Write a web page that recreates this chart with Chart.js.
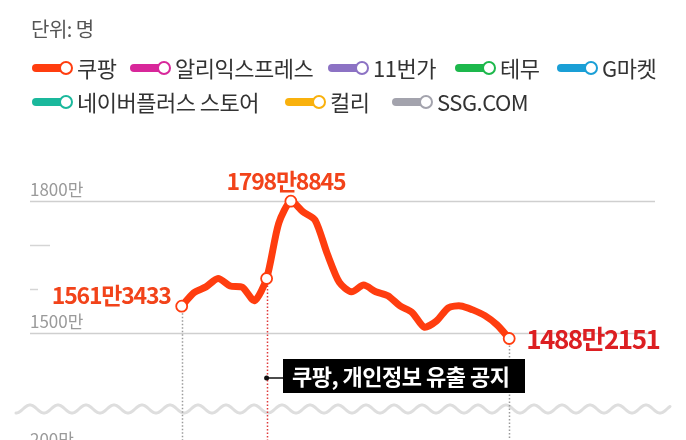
<!DOCTYPE html>
<html>
<head>
<meta charset="utf-8">
<script src="https://cdn.jsdelivr.net/npm/chart.js@4"></script>
<style>
html,body{margin:0;padding:0;background:#fff;}
#wrap{width:686px;height:440px;position:relative;overflow:hidden;}
</style>
</head>
<body>
<div id="wrap"><canvas id="c" width="686" height="440"></canvas></div>
<script>
// ---- data ----
const unitLabel = "단위: 명";
const seriesNames = ["쿠팡","알리익스프레스","11번가","테무","G마켓","네이버플러스 스토어","컬리","SSG.COM"];
const seriesColors = ["#ff3d0f","#d8279a","#8c72c4","#1db84c","#1a9fd6","#1ab89c","#f9b10d","#a3a3ad"];
const days = ["11/22","11/23","11/24","11/25","11/26","11/27","11/28","11/29","11/30","12/1",
              "12/2","12/3","12/4","12/5","12/6","12/7","12/8","12/9","12/10","12/11",
              "12/12","12/13","12/14","12/15","12/16","12/17","12/18","12/19"];
// 쿠팡 daily users, unit: 만 명
const coupang = [1561.3433,1592,1605,1624,1607,1604,1574,1624,1749,1798.8845,
                 1775,1756,1680,1615,1594,1609,1594,1585,1562,1547,
                 1514,1528,1558,1562,1553,1540,1519,1488.2151];
const gridTicks = [1800,1500];
const minorTicks = [1700,1600];
const tickLabels = ["1800만","1500만"];
const lowerTickLabel = "200만";
const highlighted = [0,7,9,27];
const pointLabels = {0:"1561만3433", 9:"1798만8845", 27:"1488만2151"};
const eventIndex = 7;
const eventText = "쿠팡, 개인정보 유출 공지";

const FONT = '"Noto Sans CJK KR","Noto Sans",sans-serif';
const RED = "#ff3d0f";

const overlay = {
  id:'overlay',
  beforeDatasetsDraw(chart){
    const ctx = chart.ctx, y = chart.scales.y, x = chart.scales.x;
    ctx.save();
    // title
    ctx.fillStyle = "#555";
    ctx.font = '20px ' + FONT;
    ctx.textBaseline = 'alphabetic';
    ctx.letterSpacing = '-0.5px';
    ctx.fillText(unitLabel, 31, 37);
    // legend
    const legendPos = [[32,68],[130,68],[328,68],[455,68],[557,68],[32,102],[285,102],[392,102]];
    seriesNames.forEach((n,i)=>{
      const [lx,ly] = legendPos[i];
      ctx.strokeStyle = seriesColors[i];
      ctx.lineWidth = 8; ctx.lineCap = 'round';
      ctx.beginPath(); ctx.moveTo(lx+4,ly); ctx.lineTo(lx+30,ly); ctx.stroke();
      ctx.beginPath(); ctx.arc(lx+34,ly,6,0,Math.PI*2);
      ctx.fillStyle = '#fff'; ctx.fill();
      ctx.lineWidth = 2; ctx.stroke();
      ctx.fillStyle = '#333';
      ctx.font = '22px ' + FONT;
      ctx.letterSpacing = '-0.5px';
      ctx.textBaseline = 'middle';
      ctx.fillText(n, lx+45, ly+1);
    });
    ctx.letterSpacing = '0px';
    // grid
    ctx.strokeStyle = '#cfcfcf'; ctx.lineWidth = 1.5; ctx.lineCap='butt';
    gridTicks.forEach((t,i)=>{
      const py = Math.round(y.getPixelForValue(t))+0.5;
      ctx.beginPath(); ctx.moveTo(30,py); ctx.lineTo(655,py); ctx.stroke();
      ctx.fillStyle = '#9a9a9a';
      ctx.font = '17px ' + FONT;
      ctx.textBaseline = 'alphabetic';
      ctx.fillText(tickLabels[i], 30, py-6);
    });
    ctx.strokeStyle = '#d5d5d5';
    minorTicks.forEach((t,i)=>{
      const py = Math.round(y.getPixelForValue(t))+0.5;
      ctx.beginPath(); ctx.moveTo(30,py); ctx.lineTo(i===0?50:38,py); ctx.stroke();
    });
    // wave break
    ctx.strokeStyle = '#dedede'; ctx.lineWidth = 3; ctx.lineJoin='round'; ctx.lineCap='round';
    ctx.beginPath();
    for(let px=16; px<=670; px+=1){
      const py = 409 + 4*Math.cos((px-16)/28*Math.PI*2);
      if(px===16) ctx.moveTo(px,py); else ctx.lineTo(px,py);
    }
    ctx.stroke();
    ctx.fillStyle = '#9a9a9a';
    ctx.font = '17px ' + FONT;
    ctx.textBaseline='alphabetic';
    ctx.fillText(lowerTickLabel, 30, 446);
    // dotted verticals
    ctx.lineWidth = 1.5; ctx.lineCap='butt';
    [[0,'#9a9a9a'],[eventIndex,'#e0393a'],[27,'#9a9a9a']].forEach(([idx,col])=>{
      const px = Math.round(x.getPixelForValue(idx))+0.5;
      const py = y.getPixelForValue(coupang[idx]);
      ctx.strokeStyle = col; ctx.setLineDash([1.5,2]);
      ctx.beginPath(); ctx.moveTo(px,py+7); ctx.lineTo(px,440); ctx.stroke();
    });
    ctx.setLineDash([]);
    ctx.restore();
  },
  afterDatasetsDraw(chart){
    const ctx = chart.ctx, y = chart.scales.y, x = chart.scales.x;
    ctx.save();
    // value labels
    ctx.textBaseline = 'alphabetic';
    ctx.letterSpacing = '-1.2px';
    let px = x.getPixelForValue(0), py = y.getPixelForValue(coupang[0]);
    ctx.font = 'bold 23px ' + FONT; ctx.fillStyle = '#f2431a';
    ctx.textAlign = 'right';
    ctx.fillText(pointLabels[0], px-11, py-2);
    px = x.getPixelForValue(9); py = y.getPixelForValue(coupang[9]);
    ctx.textAlign = 'center';
    ctx.fillText(pointLabels[9], px-5, py-11);
    px = x.getPixelForValue(27); py = y.getPixelForValue(coupang[27]);
    ctx.textAlign = 'left'; ctx.fillStyle = '#dc1f22';
    ctx.font = 'bold 26px ' + FONT;
    ctx.letterSpacing = '-1.5px';
    ctx.fillText(pointLabels[27], px+17, py+10);
    ctx.letterSpacing = '0px';
    // event annotation
    const ex = x.getPixelForValue(eventIndex);
    const ey = 378;
    ctx.fillStyle = '#111';
    ctx.beginPath(); ctx.arc(ex, ey, 2.5, 0, Math.PI*2); ctx.fill();
    ctx.strokeStyle = '#111'; ctx.lineWidth = 1.5;
    ctx.beginPath(); ctx.moveTo(ex,ey); ctx.lineTo(284,ey); ctx.stroke();
    ctx.fillStyle = '#000';
    ctx.fillRect(283, 359, 242, 34);
    ctx.fillStyle = '#fff';
    ctx.font = 'bold 22px ' + FONT;
    ctx.textAlign = 'left'; ctx.textBaseline = 'middle';
    ctx.letterSpacing = '-0.5px';
    ctx.fillText(eventText, 292, 377);
    ctx.restore();
  }
};

new Chart(document.getElementById('c'), {
  type:'line',
  data:{
    labels: days,
    datasets:[{
      label: seriesNames[0],
      data: coupang,
      borderColor: RED,
      borderWidth: 7,
      borderJoinStyle: 'round',
      borderCapStyle: 'round',
      tension: 0.25,
      clip: false,
      pointRadius: c => highlighted.includes(c.dataIndex) ? 5.5 : 0,
      pointHoverRadius: 0,
      pointBackgroundColor: '#fff',
      pointBorderColor: RED,
      pointBorderWidth: 1.8
    }]
  },
  options:{
    responsive:false,
    devicePixelRatio:1,
    animation:false,
    events:[],
    layout:{padding:{left:181.7,right:176.8,top:156.5,bottom:62.5}},
    plugins:{legend:{display:false},tooltip:{enabled:false}},
    scales:{
      x:{type:'category',display:false,offset:false},
      y:{display:false,min:1400,max:1900}
    }
  },
  plugins:[overlay]
});
</script>
</body>
</html>
